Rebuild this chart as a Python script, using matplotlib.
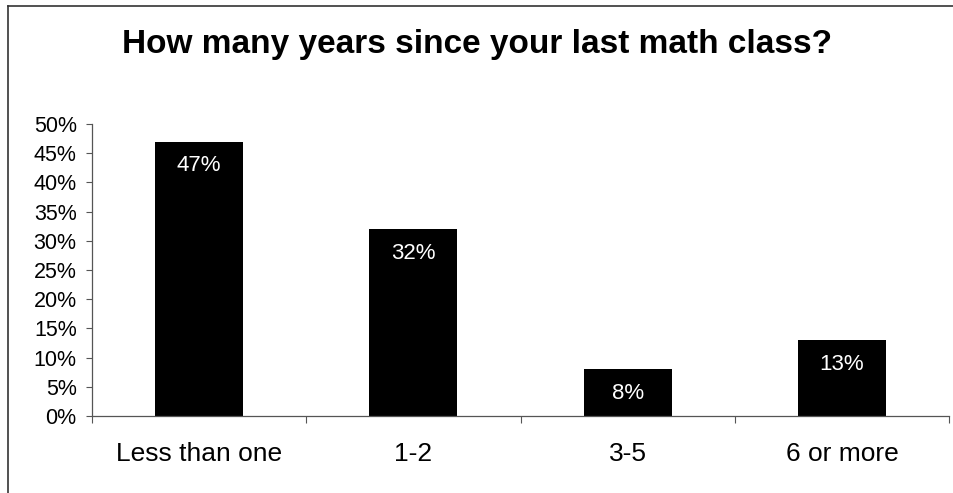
import matplotlib.pyplot as plt
from matplotlib.lines import Line2D
from matplotlib.ticker import PercentFormatter

plt.rcParams['font.family'] = ['Liberation Sans', 'DejaVu Sans']

# survey answers
categories = ['Less than one', '1-2', '3-5', '6 or more']
shares = [47, 32, 8, 13]
bar_labels = ['47%', '32%', '8%', '13%']
yticks = [0, 5, 10, 15, 20, 25, 30, 35, 40, 45, 50]

fig = plt.figure(figsize=(9.54, 4.93), dpi=100)
ax = fig.add_axes([0.0964, 0.1562, 0.8984, 0.5923])

x = range(len(categories))
bars = ax.bar(x, shares, width=0.41, color='black')

for b, lab in zip(bars, bar_labels):
    ax.annotate(lab, (b.get_x() + b.get_width() / 2, b.get_height()),
                xytext=(0, -24), textcoords='offset pixels',
                ha='center', va='center', color='white', fontsize=16)

ax.set_xlim(-0.5, len(categories) - 0.5)
ax.set_ylim(0, 50)
ax.set_yticks(yticks)
ax.yaxis.set_major_formatter(PercentFormatter(decimals=0))
ax.set_xticks(list(x))
ax.set_xticklabels(categories, fontsize=19)
ax.set_xticks([i - 0.5 for i in range(len(categories) + 1)], minor=True)
ax.tick_params(axis='x', which='major', length=0, pad=19)
ax.tick_params(axis='x', which='minor', length=5, width=0.8, color='#555555', direction='out')
ax.tick_params(axis='y', labelsize=15.5, length=4, width=0.8, color='#555555', pad=7)

for side in ['top', 'right']:
    ax.spines[side].set_visible(False)
for side in ['left', 'bottom']:
    ax.spines[side].set_color('#555555')
    ax.spines[side].set_linewidth(0.9)

fig.text(0.5, 0.91, 'How many years since your last math class?',
         ha='center', va='center', fontsize=24, fontweight='bold')

# chart frame (only top and left edges are inside the picture)
fig.add_artist(Line2D([8 / 954, 8 / 954], [0, 1 - 6 / 493], transform=fig.transFigure,
                      color='#333333', linewidth=1.2))
fig.add_artist(Line2D([8 / 954, 1], [1 - 6 / 493, 1 - 6 / 493], transform=fig.transFigure,
                      color='#333333', linewidth=1.2))

fig.savefig('out.png', dpi=100)
